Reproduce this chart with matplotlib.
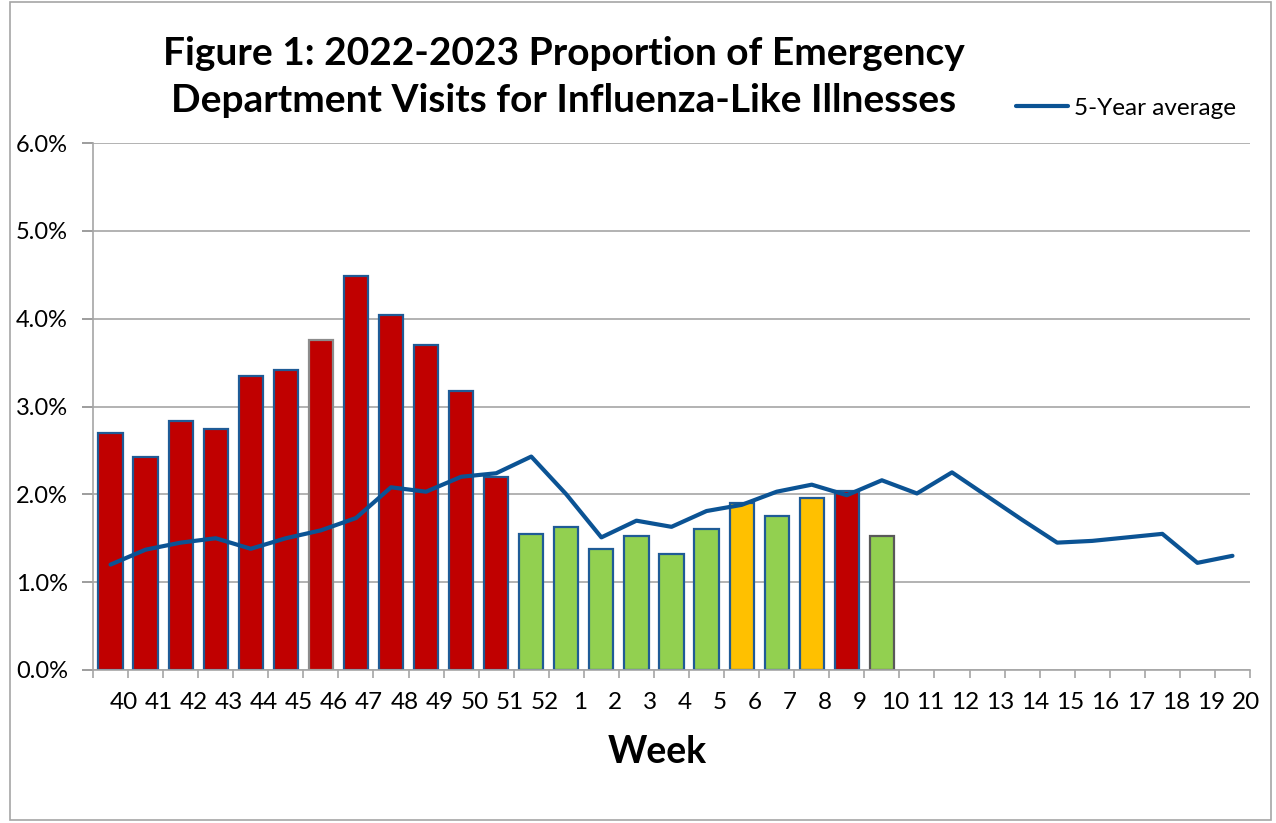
import matplotlib
matplotlib.use("Agg")
import matplotlib.pyplot as plt
from matplotlib.patches import Rectangle

weeks = ["40", "41", "42", "43", "44", "45", "46", "47", "48", "49", "50", "51", "52",
         "1", "2", "3", "4", "5", "6", "7", "8", "9", "10", "11", "12", "13", "14",
         "15", "16", "17", "18", "19", "20"]

current_season = [2.70, 2.42, 2.84, 2.74, 3.35, 3.42, 3.76, 4.49, 4.04, 3.70, 3.18, 2.20,
                  1.55, 1.63, 1.38, 1.53, 1.32, 1.60, 1.90, 1.75, 1.96, 2.04, 1.53]
activity_level = ["high", "high", "high", "high", "high", "high", "high", "high", "high",
                  "high", "high", "high", "low", "low", "low", "low", "low", "low",
                  "moderate", "low", "moderate", "high", "low"]

five_year_avg = [1.20, 1.37, 1.45, 1.50, 1.38, 1.50, 1.59, 1.73, 2.08, 2.03, 2.20, 2.24,
                 2.43, 2.00, 1.51, 1.70, 1.63, 1.81, 1.88, 2.03, 2.11, 1.99, 2.16, 2.01,
                 2.25, 1.98, 1.71, 1.45, 1.47, 1.51, 1.55, 1.22, 1.30]

level_colors = {"high": "#C00000", "moderate": "#FFC000", "low": "#92D050"}
line_color = "#0B5394"
edge_blue = "#1F5B96"

plt.rcParams['font.family'] = ['Lato', 'DejaVu Sans']

fig = plt.figure(figsize=(12.76, 8.23), dpi=100)
ax = fig.add_axes([93/1276, (823-670)/823, (1250-93)/1276, (670-143)/823])

# figure border
fig.patches.append(Rectangle((0.008, 0.004), 0.988, 0.993, transform=fig.transFigure,
                             fill=False, edgecolor="#A6A6A6", linewidth=1.2))

x_bar = list(range(len(current_season)))
edgecolors = [edge_blue] * len(current_season)
edgecolors[6] = "#8C8C8C"
edgecolors[-1] = "#595959"
ax.bar(x_bar, current_season, width=0.69,
       color=[level_colors[l] for l in activity_level],
       edgecolor=edgecolors, linewidth=1.6, zorder=2)

x_line = list(range(len(five_year_avg)))
ax.plot(x_line, five_year_avg, color=line_color, linewidth=3.0, zorder=3,
        solid_joinstyle="round", solid_capstyle="round", label="5-Year average")

ax.set_xlim(-0.5, len(weeks) - 0.5)
ax.set_ylim(0, 6)
ax.set_yticks([0, 1, 2, 3, 4, 5, 6])
ax.set_yticklabels(["0.0%", "1.0%", "2.0%", "3.0%", "4.0%", "5.0%", "6.0%"], fontsize=17)
ax.tick_params(axis="y", length=8, color="#8C8C8C", width=1.2, pad=10)
ax.yaxis.grid(True, color="#A6A6A6", linewidth=1.2, zorder=0)
ax.set_axisbelow(True)

# category boundary ticks
ax.set_xticks([i - 0.5 for i in range(len(weeks) + 1)])
ax.set_xticklabels([])
ax.tick_params(axis="x", which="major", length=6, color="#A6A6A6", width=1.2)
# labels (offset to the right as in the reference)
ax.set_xticks([i + 0.38 for i in range(len(weeks))], minor=True)
ax.set_xticklabels(weeks, minor=True, fontsize=17.5)
ax.tick_params(axis="x", which="minor", length=0, pad=16)

for s in ["top", "right"]:
    ax.spines[s].set_visible(False)
ax.spines["left"].set_color("#A6A6A6")
ax.spines["bottom"].set_color("#A6A6A6")
ax.spines["left"].set_linewidth(1.2)
ax.spines["bottom"].set_linewidth(1.2)

ax.set_xlabel("Week", fontsize=27, fontweight="bold")
ax.xaxis.set_label_coords((657 - 93) / (1250 - 93), -(752 - 670) / (670 - 143))
ax.xaxis.label.set_va("center")

fig.text(564/1276, 1 - 77/823,
         "Figure 1: 2022-2023 Proportion of Emergency\nDepartment Visits for Influenza-Like Illnesses",
         ha="center", va="center", fontsize=28, fontweight="bold", linespacing=1.42)

leg = fig.legend(loc="center left", bbox_to_anchor=(1016/1276, 1 - 108/823), frameon=False,
                 fontsize=17.5, handlelength=2.14, handletextpad=0.25,
                 borderpad=0, borderaxespad=0)

fig.savefig("out.png", dpi=100)
